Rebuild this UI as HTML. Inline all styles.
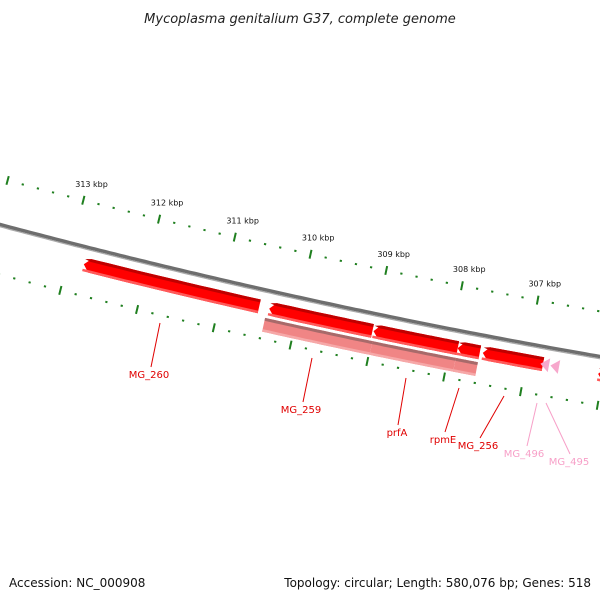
<!DOCTYPE html>
<html><head><meta charset="utf-8"><style>
body{margin:0;background:#fff;}
svg{display:block;font-family:"DejaVu Sans","Liberation Sans",sans-serif;}
</style></head><body>
<svg id="c" width="600" height="600" viewBox="0 0 600 600">
<text x="300" y="23" text-anchor="middle" font-size="13" font-style="italic" fill="#222">Mycoplasma genitalium G37, complete genome</text>
<text x="9" y="587" font-size="12" fill="#111">Accession: NC_000908</text>
<text x="591" y="587" font-size="12" fill="#111" text-anchor="end">Topology: circular; Length: 580,076 bp; Genes: 518</text>
<g id="ticks"></g><g id="bb"></g><g id="feats"></g><g id="labels"></g>
</svg>
<script>
const tickKbp=[314,313,312,311,310,309,308,307,306];
const labeledKbp=[313,312,311,310,309,308,307];
const featNames=["MG_260","MG_259","prfA","rpmE","MG_256","MG_496","MG_495","MG_next"];
const featStart=[312793,310366,309001,307899,307571,306797,306666,306062];
const featEnd=[310497,309015,307899,307610,306784,306705,306574,305500];
const featKind=["red","red","red","red","red","pink","pink","red"];
const row2Start=[310391,308988,307899];
const row2End=[308988,307900,307610];
const NS="http://www.w3.org/2000/svg";
function yb(x){return 225+0.2667*x-7.78e-5*x*x;}
function sl(x){return 0.2667-2*7.78e-5*x;}
function xOf(bp){return 72.2+(313000-bp)/13.12;}
function P(bp,r){const x=xOf(bp),s=sl(x),n=Math.sqrt(1+s*s);return [x-r*s/n,yb(x)+r/n];}
function mk(tag,attrs,parent){const e=document.createElementNS(NS,tag);for(const k in attrs)e.setAttribute(k,attrs[k]);parent.appendChild(e);return e;}
function band(b0,b1,r0,r1,arrow){
  const pts=[];const N=20;const ah=arrow?6:0;
  const a0=b0-ah*13.12;
  for(let i=0;i<=N;i++){const b=a0+(b1-a0)*i/N;pts.push(P(b,r0));}
  for(let i=N;i>=0;i--){const b=a0+(b1-a0)*i/N;pts.push(P(b,r1));}
  if(arrow){pts.push(P(b0,(r0+r1)/2));}
  return pts.map(p=>p[0].toFixed(1)+","+p[1].toFixed(1)).join(" ");
}
// backbone
const bbG=document.getElementById('bb');
let d1="",d2="";
for(let x=-5;x<=605;x+=5){d1+=(x<0?"M":"L")+x+","+(yb(x)-0.5).toFixed(1);d2+=(x<0?"M":"L")+x+","+(yb(x)+1.8).toFixed(1);}
const bl=mk('path',{d:d1,stroke:'#6e6e6e','stroke-width':3.5,fill:'none'},bbG);


mk('path',{d:d2,stroke:'#aaaaaa','stroke-width':1.2,fill:'none'},bbG);
// ticks
const tg=document.getElementById('ticks');
for(let k=305000;k<=315000;k+=200){
  const major=k%1000===0;
  for(const r of [-45,48]){
    const a=P(k,r-(major?4.5:1)),b=P(k,r+(major?4.5:1));
    if(a[0]<-5||a[0]>605)continue;
    const t=mk('line',{x1:a[0],y1:a[1],x2:b[0],y2:b[1],stroke:'#1f7f1f','stroke-width':major?2:2.2},tg);
    
    
  }
}
labeledKbp.forEach(k=>{const p=P(k*1000,-62);
  const t=mk('text',{x:p[0]+4,y:p[1]+3,'font-size':8,'text-anchor':'middle',fill:'#111'},tg);
  t.textContent=k+" kbp";
  
  });
// features
const fg=document.getElementById('feats');
featStart.forEach((s,i)=>{
  const e=featEnd[i];const g=mk('g',{},fg);
  
  
  if(featKind[i]==='pink'){
    mk('polygon',{points:band(s,s,10,24,true).split(" ").slice(0,0).join(" ")},g);
    const a=P(s+20,17),b=P(e,10),c=P(e,24);
    mk('polygon',{points:`${a[0]},${a[1]} ${b[0]},${b[1]} ${c[0]},${c[1]}`,fill:'#f7a8cc'},g);
  }else{
    mk('polygon',{points:band(s,e,10,24,true),fill:'#ff0000'},g);
    mk('polygon',{points:band(s,e,10,13,true),fill:'#c00000'},g);
    mk('polygon',{points:band(s,e,21.5,24,false),fill:'#ff5a5a'},g);
  }
});
row2Start.forEach((s,i)=>{
  const e=row2End[i];const g=mk('g',{},fg);
  
  
  mk('polygon',{points:band(s,e,27,41,false),fill:'#f08585'},g);
  mk('polygon',{points:band(s,e,27,30,false),fill:'#a86a6a'},g);
  mk('polygon',{points:band(s,e,38.5,41,false),fill:'#f6a8a8'},g);
});
// labels
const lg=document.getElementById('labels');
const lab=[["MG_260",160,323,151,367,149,378,'#e00000'],["MG_259",312,358,303,402,301,413,'#e00000'],["prfA",406,378,398,425,397,436,'#e00000'],["rpmE",459,388,445,432,443,443,'#e00000'],["MG_256",504,396,480,438,478,449,'#e00000'],["MG_496",537,403,527,446,524,457,'#f7a0c8'],["MG_495",546,403,570,454,569,465,'#f7a0c8']];
lab.forEach(L=>{
  const g=mk('g',{},lg);
  
  
  mk('line',{x1:L[1],y1:L[2],x2:L[3],y2:L[4],stroke:L[7],'stroke-width':1},g);
  const t=mk('text',{x:L[5],y:L[6],'font-size':10,'text-anchor':'middle',fill:L[7]},g);
  t.textContent=L[0];
});
</script>
</body></html>
